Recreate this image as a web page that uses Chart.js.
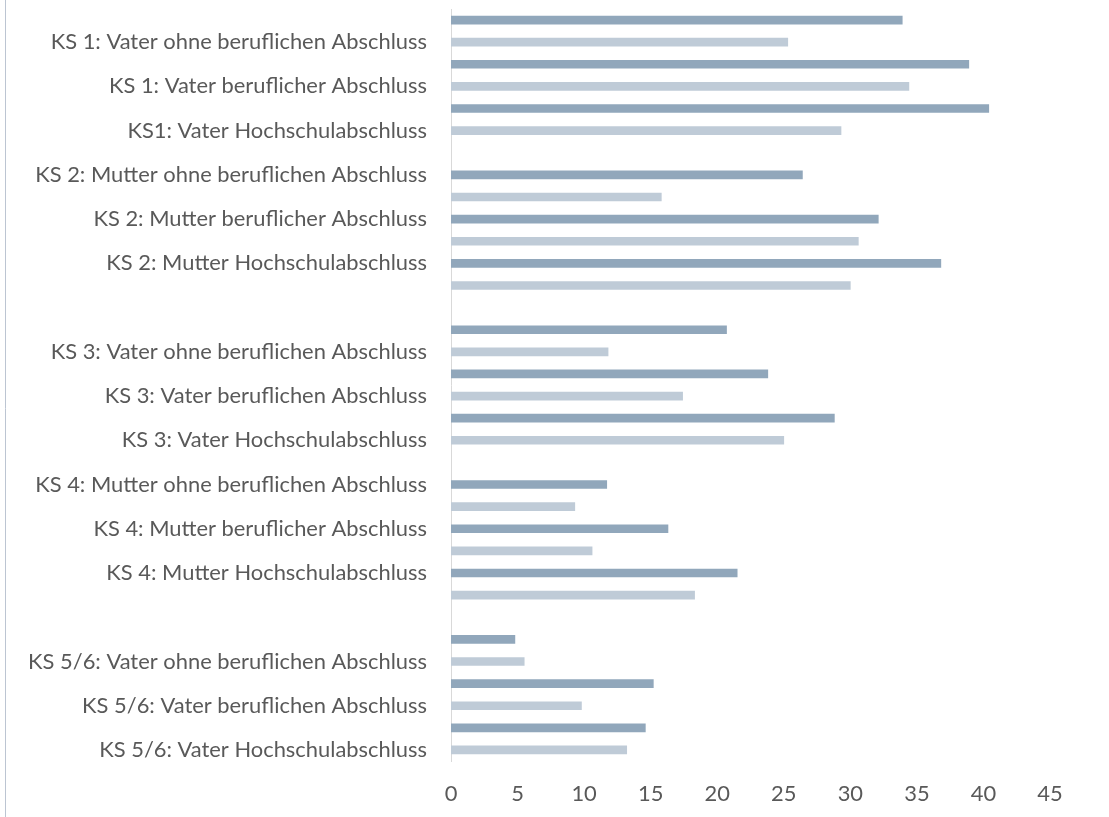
<!DOCTYPE html>
<html>
<head>
<meta charset="utf-8">
<script src="https://cdn.jsdelivr.net/npm/chart.js@4.4.1/dist/chart.umd.min.js"></script>
<style>
  html, body { margin: 0; padding: 0; background: #ffffff; }
  #wrap { position: relative; width: 1109px; height: 817px; }
  canvas { display: block; }
</style>
</head>
<body>
<div id="wrap"><canvas id="c" width="1109" height="817"></canvas></div>
<script>
// ---- data ----
const categories = [
  "KS 1: Vater ohne beruflichen Abschluss",
  "KS 1: Vater beruflicher Abschluss",
  "KS1: Vater Hochschulabschluss",
  "KS 2: Mutter ohne beruflichen Abschluss",
  "KS 2: Mutter beruflicher Abschluss",
  "KS 2: Mutter Hochschulabschluss",
  "KS 3: Vater ohne beruflichen Abschluss",
  "KS 3: Vater beruflichen Abschluss",
  "KS 3: Vater Hochschulabschluss",
  "KS 4: Mutter ohne beruflichen Abschluss",
  "KS 4: Mutter beruflicher Abschluss",
  "KS 4: Mutter Hochschulabschluss",
  "KS 5/6: Vater ohne beruflichen Abschluss",
  "KS 5/6: Vater beruflichen Abschluss",
  "KS 5/6: Vater Hochschulabschluss"
];
const seriesDark  = [33.9, 38.9, 40.4, 26.4, 32.1, 36.8, 20.7, 23.8, 28.8, 11.7, 16.3, 21.5, 4.8, 15.2, 14.6];
const seriesLight = [25.3, 34.4, 29.3, 15.8, 30.6, 30.0, 11.8, 17.4, 25.0, 9.3, 10.6, 18.3, 5.5, 9.8, 13.2];
const groupSize = 3;          // categories per block, an empty row follows each block
const xTicks = [0, 5, 10, 15, 20, 25, 30, 35, 40, 45];

// ---- build the row layout: each category gets a dark row and a light row ----
const rowLabels = [], darkRows = [], lightRows = [];
categories.forEach((cat, i) => {
  if (i > 0 && i % groupSize === 0) { rowLabels.push(''); darkRows.push(null); lightRows.push(null); }
  rowLabels.push(rowLabels.length % 2 === 1 ? cat : '');
  darkRows.push(seriesDark[i]); lightRows.push(null);
  rowLabels.push(rowLabels.length % 2 === 1 ? cat : '');
  darkRows.push(null); lightRows.push(seriesLight[i]);
});

// ---- font sizing (Calibri-like width) ----
const FAMILY = "Lato, 'Open Sans', 'DejaVu Sans', sans-serif";
const mctx = document.createElement('canvas').getContext('2d');
mctx.font = "100px " + FAMILY;
let fs = 377 / mctx.measureText(categories[0]).width * 100;
fs = Math.round(fs * 10) / 10;

const TEXT = '#595959';

const bgPlugin = {
  id: 'bgBorder',
  beforeDraw(chart) {
    const ctx = chart.ctx;
    ctx.save();
    ctx.fillStyle = '#ffffff';
    ctx.fillRect(0, 0, chart.width, chart.height);
    ctx.strokeStyle = '#bcc5d2';
    ctx.lineWidth = 1;
    ctx.beginPath();
    ctx.moveTo(5.5, 0);
    ctx.lineTo(5.5, chart.height);
    ctx.stroke();
    ctx.restore();
  }
};

new Chart(document.getElementById('c'), {
  type: 'bar',
  data: {
    labels: rowLabels,
    datasets: [
      { label: 'Serie 1', data: darkRows, backgroundColor: '#91a7bb', borderWidth: 0,
        barThickness: 8, grouped: false },
      { label: 'Serie 2', data: lightRows, backgroundColor: '#bfcbd7', borderWidth: 0,
        barThickness: 8, grouped: false }
    ]
  },
  options: {
    indexAxis: 'y',
    responsive: false,
    animation: false,
    devicePixelRatio: 1,
    layout: { padding: { left: 0, top: 9, right: 59, bottom: 0 } },
    plugins: { legend: { display: false }, tooltip: { enabled: false } },
    scales: {
      y: {
        type: 'category',
        grid: { display: false, drawTicks: false },
        border: { display: true, color: '#d9d9d9', width: 1 },
        ticks: { autoSkip: false, color: TEXT, padding: 24,
                 font: { family: FAMILY, size: fs } },
        afterFit(scale) { scale.width = 451; scale.paddingTop = 0; scale.paddingBottom = 0; }
      },
      x: {
        min: 0, max: 45,
        afterBuildTicks(scale) { scale.ticks = xTicks.map(v => ({ value: v })); },
        grid: { display: false, drawTicks: false },
        border: { display: false },
        ticks: { color: TEXT, padding: 20, font: { family: FAMILY, size: fs } },
        afterFit(scale) { scale.height = 56; }
      }
    }
  },
  plugins: [bgPlugin]
});
</script>
</body>
</html>
